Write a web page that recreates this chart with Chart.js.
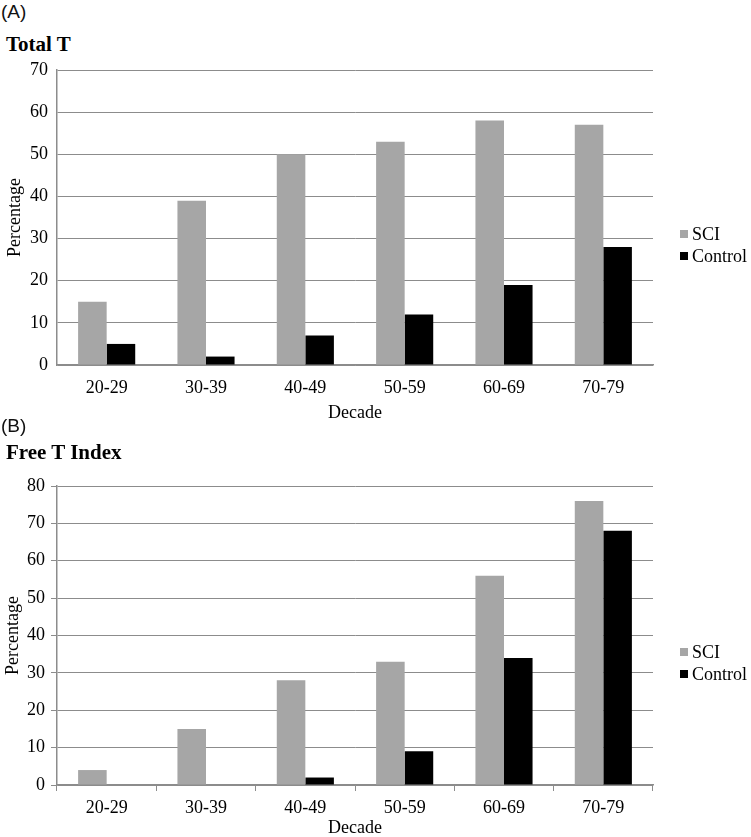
<!DOCTYPE html>
<html>
<head>
<meta charset="utf-8">
<script src="https://cdn.jsdelivr.net/npm/chart.js@4/dist/chart.umd.min.js"></script>
<style>
  html, body { margin: 0; padding: 0; background: #fff; overflow: hidden; }
  body { width: 751px; height: 837px; position: relative; }
  .wrap { position: absolute; left: 0; width: 751px; }
  .lbl { position: absolute; font-family: "Liberation Sans", Arial, sans-serif; font-size: 19px; line-height: 24px; color: #111; white-space: nowrap; }
  .ttl { position: absolute; font-family: "Liberation Serif", "Times New Roman", serif; font-weight: bold; font-size: 21px; line-height: 24px; color: #000; white-space: nowrap; }
  .leg { position: absolute; font-family: "Liberation Serif", "Times New Roman", serif; font-size: 18px; line-height: 20px; color: #000; white-space: nowrap; }
  .leg i { position: absolute; left: -12px; top: 6px; width: 8px; height: 8px; }
</style>
</head>
<body>
<div class="lbl" style="left:1px; top:0px;">(A)</div>
<div class="ttl" style="left:6px; top:32px;">Total T</div>
<div class="wrap" style="top:0px; height:424px;"><canvas id="cA" width="751" height="424"></canvas></div>
<div class="leg" style="left:692px; top:224px;"><i style="background:#a6a6a6"></i>SCI</div>
<div class="leg" style="left:692px; top:246px;"><i style="background:#000"></i>Control</div>

<div class="lbl" style="left:1px; top:414px;">(B)</div>
<div class="ttl" style="left:6px; top:440px;">Free T Index</div>
<div class="wrap" style="top:424px; height:415px;"><canvas id="cB" width="751" height="415"></canvas></div>
<div class="leg" style="left:692px; top:642px;"><i style="background:#a6a6a6"></i>SCI</div>
<div class="leg" style="left:692px; top:664px;"><i style="background:#000"></i>Control</div>

<script>
const decades = ["20-29", "30-39", "40-49", "50-59", "60-69", "70-79"];
const seriesNames = ["SCI", "Control"];
const totalT_SCI = [15, 39, 50, 53, 58, 57];
const totalT_Control = [5, 2, 7, 12, 19, 28];
const freeT_SCI = [4, 15, 28, 33, 56, 76];
const freeT_Control = [0, 0, 2, 9, 34, 68];
const totalT_yTicks = [0, 10, 20, 30, 40, 50, 60, 70];
const freeT_yTicks = [0, 10, 20, 30, 40, 50, 60, 70, 80];

const SERIF = '"Liberation Serif", "Times New Roman", serif';
const GRID = '#8c8c8c';
const GRAY = '#a6a6a6';

function makeChart(id, sci, ctrl, yTicks, cfg) {
  const ctx = document.getElementById(id);
  return new Chart(ctx, {
    type: 'bar',
    data: {
      labels: decades,
      datasets: [
        { label: seriesNames[0], data: sci, backgroundColor: GRAY, borderWidth: 0 },
        { label: seriesNames[1], data: ctrl, backgroundColor: '#000', borderWidth: 0 }
      ]
    },
    options: {
      responsive: false,
      animation: false,
      events: [],
      categoryPercentage: 0.575,
      barPercentage: 1.0,
      layout: { padding: { left: 0, right: 98, top: cfg.padTop, bottom: 0 } },
      plugins: { legend: { display: false }, tooltip: { enabled: false } },
      scales: {
        x: {
          offset: true,
          grid: {
            display: cfg.xTicks,
            drawOnChartArea: false,
            drawTicks: cfg.xTicks,
            tickLength: 6,
            color: GRID,
            lineWidth: 1,
            offset: true
          },
          border: { display: true, color: GRID, width: 1.5 },
          ticks: { color: '#000', font: { family: SERIF, size: 18 }, padding: cfg.xPad, maxRotation: 0 },
          title: { display: true, text: 'Decade', color: '#000', font: { family: SERIF, size: 18 }, padding: { top: 0, bottom: 0 } },
          afterFit: (s) => { s.height = cfg.xHeight; }
        },
        y: {
          min: yTicks[0],
          max: yTicks[yTicks.length - 1],
          afterBuildTicks: (s) => { s.ticks = yTicks.map(v => ({ value: v })); },
          grid: {
            color: GRID,
            lineWidth: 1,
            drawTicks: cfg.yTicks,
            tickLength: 6
          },
          border: { display: true, color: GRID, width: 1.5 },
          ticks: { color: '#000', font: { family: SERIF, size: 18 }, padding: cfg.yPad },
          title: { display: true, text: 'Percentage', color: '#000', font: { family: SERIF, size: 18 }, padding: { top: cfg.yTitlePad, bottom: 0 } },
          afterFit: (s) => { s.width = 57; }
        }
      }
    }
  });
}

makeChart('cA', totalT_SCI, totalT_Control, totalT_yTicks,
  { padTop: 70, xTicks: false, xPad: 12, xHeight: 59, yTicks: false, yPad: 9, yTitlePad: 4 });
makeChart('cB', freeT_SCI, freeT_Control, freeT_yTicks,
  { padTop: 62, xTicks: true, xPad: 6, xHeight: 54, yTicks: true, yPad: 6, yTitlePad: 2 });
</script>
</body>
</html>
